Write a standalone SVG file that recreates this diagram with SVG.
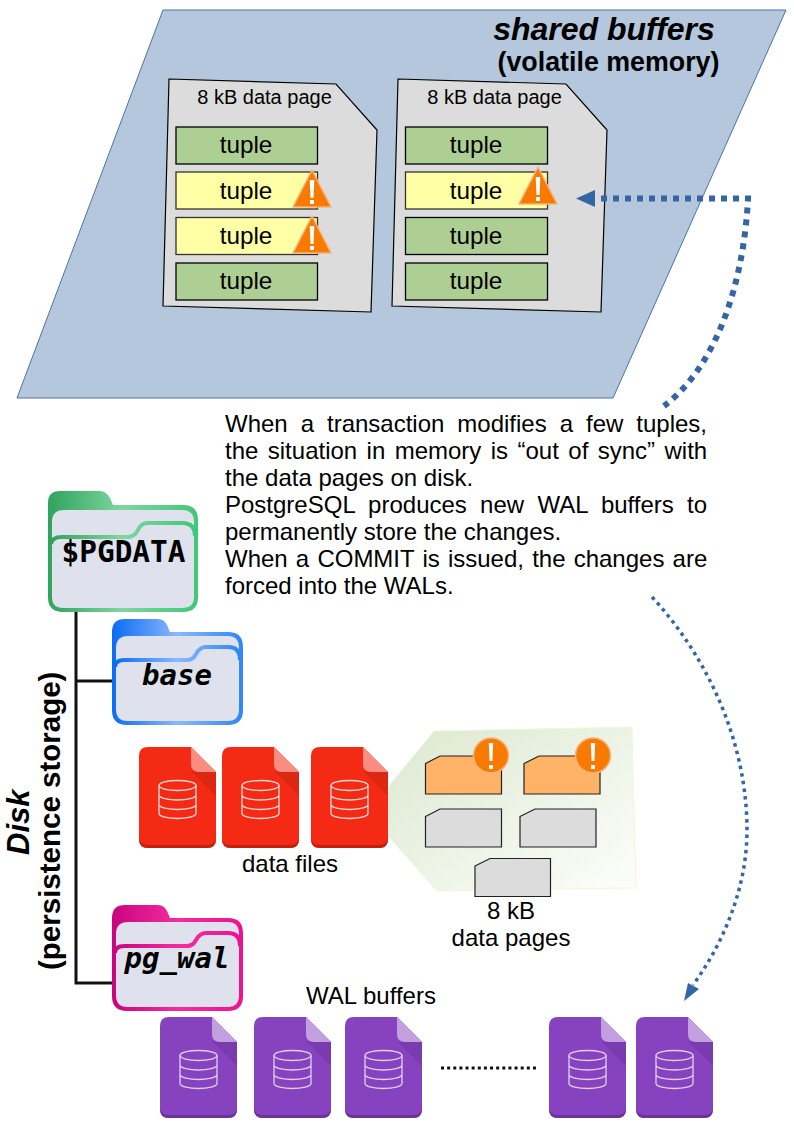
<svg xmlns="http://www.w3.org/2000/svg" width="794" height="1123" viewBox="0 0 794 1123">
<style>
text{font-family:"Liberation Sans",Arial,sans-serif;fill:#000}
.tu{font-size:24.300px;text-anchor:middle}
.pg{font-size:20px;text-anchor:middle}
.bd{font-size:24px}
.mono{font-family:"DejaVu Sans Mono","Liberation Mono",monospace;font-weight:700;text-anchor:middle}
.g{fill:#aecf94;stroke:#000;stroke-width:1.3}
.y{fill:#ffffa6;stroke:#333;stroke-width:1.3}
.sheet{fill:#dcdcdc;stroke:#000;stroke-width:1.2}
.mini{fill:#dcdcdc;stroke:#222;stroke-width:1.2}
.mini2{fill:#ffb366;stroke:#222;stroke-width:1.2}
.lab{font-size:24px;text-anchor:middle}
</style>
<defs>
<linearGradient id="gg" x1="0" x2="1" y1="0" y2="0"><stop offset="0" stop-color="#2fa35c"/><stop offset=".5" stop-color="#7fd6a0"/><stop offset="1" stop-color="#3fc878"/></linearGradient>
<linearGradient id="gb" x1="0" x2="1" y1="0" y2="0"><stop offset="0" stop-color="#0a6cf5"/><stop offset=".5" stop-color="#8ab8fb"/><stop offset="1" stop-color="#2f86f8"/></linearGradient>
<linearGradient id="gp" x1="0" x2="1" y1="0" y2="0"><stop offset="0" stop-color="#c8057f"/><stop offset=".5" stop-color="#f52ba0"/><stop offset="1" stop-color="#ee1290"/></linearGradient>
<linearGradient id="zoomg" x1="0" y1="0" x2="1" y2="1"><stop offset="0" stop-color="#dce8cf"/><stop offset="1" stop-color="#fdfefb"/></linearGradient>
<g id="warn"><path d="M0 -19 L19 18 L-19 18 Z" fill="#f97a00" stroke="#f5b37c" stroke-width="1.500" stroke-linejoin="round"/><path d="M-2.300 -9H2.300L1.500 9H-1.500Z" fill="#fff"/><rect x="-2" y="11" width="4" height="4" fill="#fff"/></g>
<g id="dbicon" fill="none" stroke-width="1.300"><ellipse cx="0" cy="-14" rx="18.500" ry="5"/><path d="M-18.500 -14V14C-18.500 17 -9 19 0 19S18.500 17 18.500 14V-14M-18.500 -4.500C-18.500 -1.500 -9 .5 0 .5S18.500 -1.500 18.500 -4.500M-18.500 5C-18.500 8 -9 10 0 10S18.500 8 18.500 5"/></g>
<g id="red"><path d="M9 0H52L77 25V92Q77 101 68 101H9Q0 101 0 92V9Q0 0 9 0Z" fill="#f42a14"/><path d="M0 92Q0 101 9 101H68Q77 101 77 92V89Q77 98 68 98H9Q0 98 0 89Z" fill="#c4200f"/><path d="M52 24L77 49V25Z" fill="#dc2712"/><path d="M52 0L77 25H60Q52 25 52 17Z" fill="#fb8d80"/><use href="#dbicon" x="38.500" y="52.500" stroke="#fbdcd8"/></g>
<g id="pur"><path d="M9 0H52L77 25V92Q77 101 68 101H9Q0 101 0 92V9Q0 0 9 0Z" fill="#8642bf"/><path d="M0 92Q0 101 9 101H68Q77 101 77 92V89Q77 98 68 98H9Q0 98 0 89Z" fill="#6b349a"/><path d="M52 24L77 49V25Z" fill="#7a3bae"/><path d="M52 0L77 25H60Q52 25 52 17Z" fill="#c2a0e0"/><use href="#dbicon" x="38.500" y="52.500" stroke="#e0d0f0"/></g>
</defs>

<g id="shared-buffers">
<path d="M163 10H786L613 398H17Z" fill="#b4c7dc" stroke="#4a74a8" stroke-width="1"/>
<text x="604" y="40" font-size="32" font-weight="700" font-style="italic" text-anchor="middle">shared buffers</text>
<text x="608.500" y="71" font-size="26.800" font-weight="700" text-anchor="middle">(volatile memory)</text>
</g>

<g id="page-1">
<path class="sheet" d="M169 79L336 84L377 130L371 312L163 306Z"/>
<text class="pg" x="264.500" y="104">8 kB data page</text>
<rect class="g" x="176" y="127" width="141.500" height="37"/><text class="tu" x="246" y="153">tuple</text>
<rect class="y" x="176" y="172" width="141.500" height="37"/><text class="tu" x="246" y="199">tuple</text>
<rect class="y" x="176" y="217.500" width="141.500" height="37"/><text class="tu" x="246" y="244">tuple</text>
<rect class="g" x="176" y="263" width="141.500" height="37"/><text class="tu" x="246" y="289">tuple</text>
<use href="#warn" x="312" y="189"/><use href="#warn" x="312" y="235"/>
</g>
<g id="page-2">
<path class="sheet" d="M398 79L566 84L607 130L601 312L392 306Z"/>
<text class="pg" x="494.500" y="104">8 kB data page</text>
<rect class="g" x="405.500" y="127" width="142" height="37"/><text class="tu" x="476" y="153">tuple</text>
<rect class="y" x="405.500" y="172" width="142" height="37"/><text class="tu" x="476" y="199">tuple</text>
<rect class="g" x="405.500" y="217.500" width="142" height="37"/><text class="tu" x="476" y="244">tuple</text>
<rect class="g" x="405.500" y="263" width="142" height="37"/><text class="tu" x="476" y="289">tuple</text>
<use href="#warn" x="538" y="186"/>
</g>

<g id="connectors" fill="none">
<path d="M601 198.500H748C744 280 718 365 664 406" stroke="#3465a4" stroke-width="6" stroke-dasharray="6 6"/>
<path d="M576 198.500L595 190V207Z" fill="#3465a4"/>
<path d="M652 597C710 660 747 745 747 830C747 890 722 945 693 985" stroke="#3465a4" stroke-width="3.500" stroke-dasharray="3.500 4.200"/>
<path d="M684 1001L688 983L699 989Z" fill="#3465a4"/>
<path d="M76 606V983H113M76 681H113" stroke="#111" stroke-width="3"/>
</g>

<g id="note">
<text class="bd" x="225" y="432" word-spacing="6.300">When a transaction modifies a few tuples,</text>
<text class="bd" x="225" y="459" word-spacing="2.750">the situation in memory is “out of sync” with</text>
<text class="bd" x="225" y="486">the data pages on disk.</text>
<text class="bd" x="225" y="513" word-spacing="6.600">PostgreSQL produces new WAL buffers to</text>
<text class="bd" x="225" y="540">permanently store the changes.</text>
<text class="bd" x="225" y="567" word-spacing="1.500">When a COMMIT is issued, the changes are</text>
<text class="bd" x="225" y="594">forced into the WALs.</text>
</g>

<g id="folder-pgdata">
<path d="M48 503Q48 491 60 491H100Q106 491 110 498L113 505H183Q198 505 198 520V597Q198 612 183 612H63Q48 612 48 597Z" fill="url(#gg)"/>
<path d="M52 522Q52 510 64 510H182Q194 510 194 522V597Q194 608 182 608H63Q52 608 52 597Z" fill="#dfe2ec"/>
<path d="M51 544Q52 537 62 537H128Q134 537 138 530Q141 523 148 523H182Q195 523 195 536" fill="none" stroke="url(#gg)" stroke-width="4"/>
<text class="mono" x="123.500" y="562" font-size="29.400">$PGDATA</text>
</g>
<g id="folder-base">
<path d="M112 632Q112 619 125 619H158Q164 619 167 625L170 632H228Q243 632 243 647V710Q243 725 228 725H127Q112 725 112 710Z" fill="url(#gb)"/>
<path d="M116 648Q116 636 128 636H228Q239 636 239 648V709Q239 721 228 721H127Q116 721 116 709Z" fill="#dfe2ec"/>
<path d="M115 667Q115 660 125 660H187Q193 660 196 654Q200 647 206 647H228Q240 647 240 660" fill="none" stroke="url(#gb)" stroke-width="4"/>
<text class="mono" x="177" y="685" font-size="29" font-style="italic">base</text>
</g>
<g id="folder-pg_wal">
<path d="M112 918Q112 905 125 905H158Q164 905 167 911L170 918H228Q243 918 243 933V996Q243 1011 228 1011H127Q112 1011 112 996Z" fill="url(#gp)"/>
<path d="M116 934Q116 922 128 922H228Q239 922 239 934V995Q239 1007 228 1007H127Q116 1007 116 995Z" fill="#dfe2ec"/>
<path d="M115 953Q115 946 125 946H187Q193 946 196 940Q200 933 206 933H228Q240 933 240 946" fill="none" stroke="url(#gp)" stroke-width="4"/>
<text class="mono" x="177" y="968" font-size="29" font-style="italic">pg_wal</text>
</g>

<g id="disk-label">
<text transform="translate(28.500 855) rotate(-90)" font-size="31" font-weight="700" font-style="italic">Disk</text>
<text transform="translate(60 970) rotate(-90)" font-size="29.500" font-weight="700">(persistence storage)</text>
</g>

<g id="data-pages-zoom">
<path d="M388 787L434 731L632 727L636 888L437 891L388 836Z" fill="url(#zoomg)" stroke="#f4f6d8" stroke-width="1"/>
<path class="mini2" d="M425.500 763.500L440 756H501.500V794H425.500Z"/>
<path class="mini2" d="M524 763.500L539 756H600V794H524Z"/>
<path class="mini" d="M425.500 816.500L440 809H501.500V847H425.500Z"/>
<path class="mini" d="M520 816.500L535 809H596V847H520Z"/>
<path class="mini" d="M475 866L490 858.500H550.500V896.500H475Z"/>
<g><circle cx="491" cy="755.500" r="17.500" fill="#f97a00" stroke="#f5b37c" stroke-width="1.500"/><path d="M488.800 743H493.200L492.400 761H489.600Z" fill="#fff"/><rect x="489" y="765" width="4" height="4" fill="#fff"/></g>
<g><circle cx="593" cy="755.500" r="17.500" fill="#f97a00" stroke="#f5b37c" stroke-width="1.500"/><path d="M590.800 743H595.200L594.400 761H591.600Z" fill="#fff"/><rect x="591" y="765" width="4" height="4" fill="#fff"/></g>
<text class="lab" x="511" y="919">8 kB</text>
<text class="lab" x="511" y="946">data pages</text>
</g>
<g id="data-files">
<use href="#red" x="139" y="747"/><use href="#red" x="222" y="747"/><use href="#red" x="311" y="747"/>
<text class="lab" x="290" y="872">data files</text>
</g>
<g id="wal-buffers">
<text class="lab" x="371" y="1004">WAL buffers</text>
<use href="#pur" x="160" y="1017"/><use href="#pur" x="254" y="1017"/><use href="#pur" x="345" y="1017"/><use href="#pur" x="549" y="1017"/><use href="#pur" x="636" y="1017"/>
<path d="M441 1068H536" fill="none" stroke="#111" stroke-width="3" stroke-dasharray="3 3.130"/>
</g>
</svg>
